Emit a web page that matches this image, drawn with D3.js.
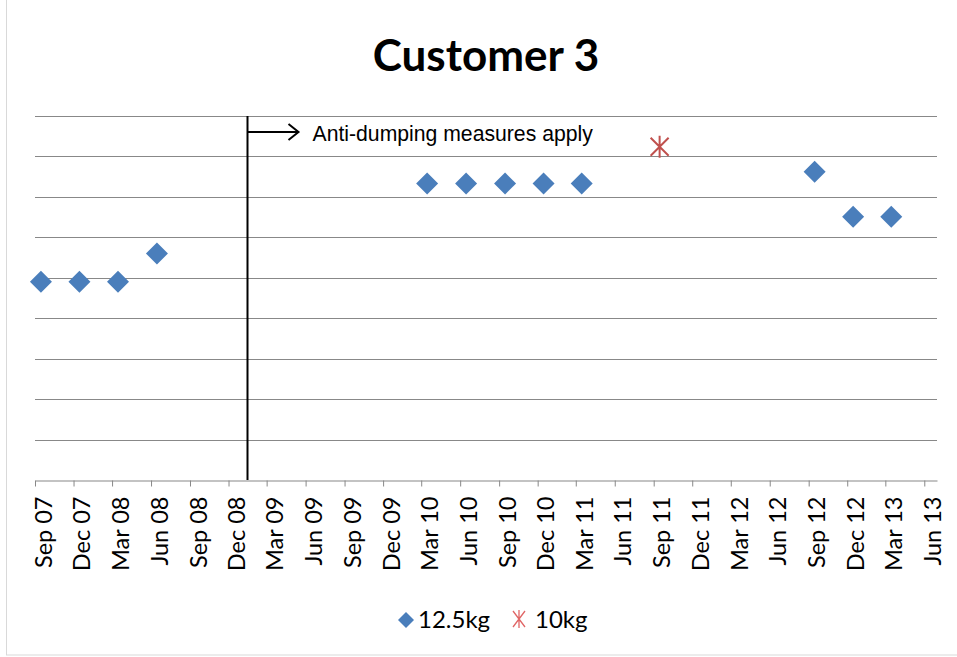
<!DOCTYPE html>
<html><head><meta charset="UTF-8">
<style>
body { margin: 0; background: #fff; }
svg { display: block; }
</style>
</head>
<body>
<svg width="957" height="657"></svg>
<script src="https://cdn.jsdelivr.net/npm/d3@7"></script>
<script>

// data
var kg125Dates = ["2007-09-15", "2007-12-15", "2008-03-15", "2008-06-15",
                  "2010-03-15", "2010-06-15", "2010-09-15", "2010-12-15", "2011-03-15",
                  "2012-09-15", "2012-12-15", "2013-03-15"];
var kg125Values = [4.9, 4.9, 4.9, 5.6, 7.33, 7.33, 7.33, 7.33, 7.33, 7.62, 6.51, 6.51];
var kg10Dates = ["2011-09-15"];
var kg10Values = [8.24];
var measureDate = "2009-01-13";
var measureLabel = "Anti-dumping measures apply";
var seriesNames = ["12.5kg", "10kg"];
var fmt = d3.timeFormat("%b %y");
var parse = d3.timeParse("%Y-%m-%d");

var svg = d3.select("svg");
var m = {left: 35, right: 937, top: 116, bottom: 480};

// outer chart border (light)
svg.append("rect")
    .attr("x", 6.5).attr("y", -2).attr("width", 960).attr("height", 657)
    .attr("fill", "none").attr("stroke", "#d9d9d9");

var start = new Date(2007, 8, 1);
var x = d3.scaleTime()
    .domain([start, new Date(2013, 6, 1)])
    .range([m.left, m.right]);
var y = d3.scaleLinear().domain([0, 9]).range([m.bottom, m.top]);

// gridlines
svg.append("g").selectAll("line")
    .data(d3.range(1, 10))
    .enter().append("line")
      .attr("x1", m.left).attr("x2", m.right)
      .attr("y1", function(d) { return Math.round(y(d)) + 0.5; })
      .attr("y2", function(d) { return Math.round(y(d)) + 0.5; })
      .attr("stroke", "#888").attr("stroke-width", 1.2);

// x axis, one tick every quarter starting Sep 07
var ticks = d3.range(24).map(function(i) { return d3.timeMonth.offset(start, 3 * i); });
var ax = svg.append("g")
    .attr("transform", "translate(0," + (m.bottom + 0.5) + ")")
    .call(d3.axisBottom(x).tickValues(ticks).tickFormat(fmt).tickSize(6).tickSizeOuter(0));
ax.select(".domain").attr("stroke", "#888").attr("stroke-width", 1.2);
ax.selectAll(".tick line").attr("stroke", "#888");
ax.selectAll(".tick text")
    .attr("font-family", "Lato, 'Open Sans', sans-serif")
    .attr("font-size", 23.5)
    .attr("fill", "#000")
    .attr("text-anchor", "end")
    .attr("transform", "translate(8,0) rotate(-90)")
    .attr("x", -16).attr("y", 0).attr("dy", "0.35em");

// measure line + arrow
var mx = Math.round(x(parse(measureDate))) + 0.5;
svg.append("line")
    .attr("x1", mx).attr("x2", mx).attr("y1", m.top).attr("y2", m.bottom)
    .attr("stroke", "#000").attr("stroke-width", 2);
svg.append("line")
    .attr("x1", mx).attr("x2", mx + 51).attr("y1", 132).attr("y2", 132)
    .attr("stroke", "#000").attr("stroke-width", 2);
svg.append("path")
    .attr("d", "M" + (mx + 41) + ",124 L" + (mx + 51) + ",132 L" + (mx + 41) + ",140")
    .attr("fill", "none").attr("stroke", "#000").attr("stroke-width", 2);
svg.append("text")
    .attr("x", mx + 65).attr("y", 141)
    .attr("font-family", "'Liberation Sans', Arial, sans-serif")
    .attr("font-size", 21.2)
    .text(measureLabel);

// 12.5kg diamonds
var diamond = "M0,-11 L11,0 L0,11 L-11,0 Z";
svg.append("g").selectAll("path")
    .data(kg125Dates.map(function(d, i) { return {date: parse(d), v: kg125Values[i]}; }))
    .enter().append("path")
      .attr("d", diamond)
      .attr("transform", function(d) { return "translate(" + x(d.date) + "," + y(d.v) + ")"; })
      .attr("fill", "#4a7ebb");

// 10kg stars
var star = "M0,-11 L0,11 M-9,-9 L9,9 M-9,9 L9,-9";
svg.append("g").selectAll("path")
    .data(kg10Dates.map(function(d, i) { return {date: parse(d), v: kg10Values[i]}; }))
    .enter().append("path")
      .attr("d", star)
      .attr("transform", function(d) { return "translate(" + x(d.date) + "," + y(d.v) + ")"; })
      .attr("fill", "none").attr("stroke", "#c0504d").attr("stroke-width", 2);

// title
svg.append("text")
    .attr("x", 486).attr("y", 71)
    .attr("text-anchor", "middle")
    .attr("font-family", "Lato, 'Open Sans', sans-serif")
    .attr("font-weight", "bold")
    .attr("font-size", 44)
    .text("Customer 3");

// legend
var lg = svg.append("g").attr("font-family", "Lato, 'Open Sans', sans-serif").attr("font-size", 24);
lg.append("path").attr("d", "M0,-8 L8,0 L0,8 L-8,0 Z")
    .attr("transform", "translate(406,620)").attr("fill", "#4a7ebb");
lg.append("text").attr("x", 418).attr("y", 628).text(seriesNames[0]);
lg.append("path").attr("d", "M0,-9 L0,9 M-6,-8 L6,8 M-6,8 L6,-8")
    .attr("transform", "translate(519,619)")
    .attr("fill", "none").attr("stroke", "#e06666").attr("stroke-width", 1.3);
lg.append("text").attr("x", 535).attr("y", 628).text(seriesNames[1]);

</script>
</body></html>
